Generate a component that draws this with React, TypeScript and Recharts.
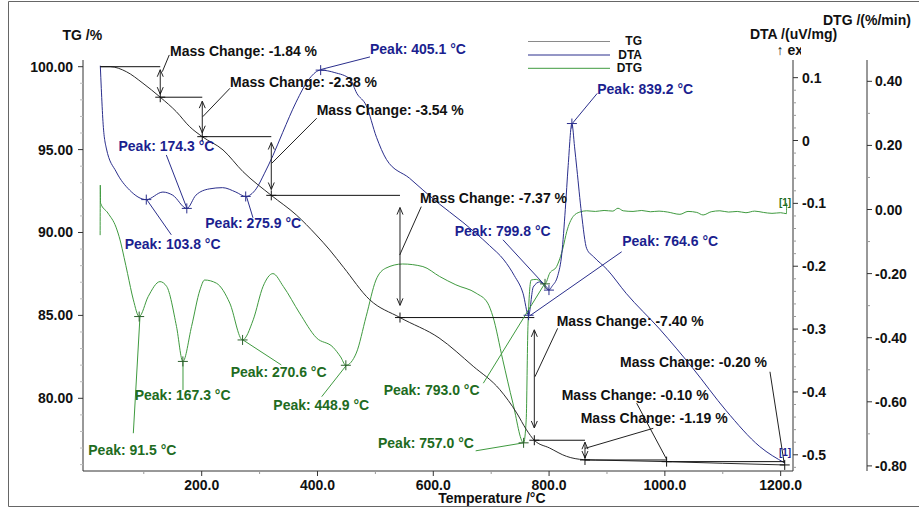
import React from 'react';
import { ComposedChart, Line, XAxis, YAxis, ReferenceLine, ReferenceDot } from 'recharts';

const FONT = '"Liberation Sans", Arial, sans-serif';
const AXIS = '#333333';
const TG_COLOR = '#2b2b2b';
const DTA_COLOR = '#2a2e8c';
const DTA_TEXT = '#1b1f8f';
const DTG_COLOR = '#3f9a3f';
const DTG_TEXT = '#216b21';

// TG /% vs temperature /°C
const tgTemp = [24.9, 42, 69.8, 98.6, 128.4, 156.1, 179.3, 201, 236.8, 271.3, 320.2, 363.4, 397.9, 421, 445, 490, 542.5, 610, 669, 715, 744, 761, 774.5, 801, 830, 860, 900, 1003, 1100, 1207];
const tgValues = [100.0, 100.0, 99.7, 99.0, 98.16, 97.29, 96.38, 95.78, 94.98, 93.67, 92.24, 91.06, 89.85, 88.95, 87.9, 85.95, 84.87, 83.64, 81.93, 80.52, 79.12, 78.1, 77.47, 77.0, 76.5, 76.3, 76.26, 76.18, 76.08, 75.98];

// DTA /(uV/mg)
const dtaTemp = [24.9, 26.6, 29.5, 35.2, 52.5, 75.6, 104.3, 133, 150, 174.3, 190, 213, 236, 259, 276, 294, 308, 323, 340, 363, 386.5, 405.5, 430, 456, 468, 484, 502, 519, 559, 605, 651, 697, 722, 740, 755, 764.6, 772.7, 784, 799.8, 805, 815, 822, 828, 833, 839.4, 844, 848, 856, 865, 877, 900, 933, 991, 1048, 1106, 1164, 1207];
const dtaValues = [0.119, 0.083, 0.03, -0.012, -0.05, -0.079, -0.094, -0.082, -0.087, -0.108, -0.087, -0.077, -0.075, -0.082, -0.089, -0.077, -0.053, -0.024, 0.013, 0.061, 0.099, 0.112, 0.108, 0.098, 0.075, 0.056, 0.005, -0.03, -0.06, -0.097, -0.13, -0.167, -0.19, -0.215, -0.243, -0.278, -0.233, -0.225, -0.238, -0.232, -0.215, -0.18, -0.11, -0.04, 0.027, -0.01, -0.045, -0.116, -0.172, -0.185, -0.205, -0.243, -0.3, -0.362, -0.43, -0.487, -0.513];

// DTG /(%/min)
const dtgTemp = [24.6, 24.9, 25.3, 38, 52, 59, 66, 72, 82, 92, 107.5, 128, 139.5, 156.5, 167.5, 182.5, 197, 205, 225.5, 248.5, 270.6, 289, 306, 323, 341, 369, 398, 427, 440, 449, 467, 484, 501, 518, 547, 582, 611, 639, 674, 694, 703, 720, 737.5, 756, 760.5, 763.5, 769, 778, 793, 801, 813, 824, 830.5, 841.5, 853, 865, 880, 895, 910, 919, 928, 945, 960, 975, 990, 1005, 1026, 1040, 1055, 1066, 1080, 1095, 1110, 1125, 1140, 1155, 1170, 1185, 1200, 1210, 1210.3];
const dtgValues = [-0.08, 0.076, 0.02, -0.011, -0.055, -0.095, -0.15, -0.2, -0.282, -0.334, -0.272, -0.225, -0.24, -0.365, -0.474, -0.365, -0.251, -0.22, -0.23, -0.292, -0.407, -0.344, -0.24, -0.2, -0.24, -0.323, -0.4, -0.43, -0.46, -0.486, -0.448, -0.334, -0.22, -0.183, -0.17, -0.178, -0.209, -0.235, -0.261, -0.292, -0.334, -0.469, -0.604, -0.728, -0.656, -0.365, -0.22, -0.218, -0.232, -0.199, -0.178, -0.12, -0.069, -0.022, -0.008, -0.004, -0.006, -0.003, -0.005, 0.004, -0.004, -0.006, -0.003, -0.007, -0.005, -0.008, -0.015, -0.006, -0.009, -0.017, -0.007, -0.004, -0.008, -0.006, -0.01, -0.005, -0.009, -0.012, -0.01, -0.013, 0.02];

// mass-change steps on TG
const stepTemps = [24.9, 128.4, 201, 320.2, 542.5, 774.5, 862, 1003, 1207];
const stepLevels = [100.0, 98.16, 95.78, 92.24, 84.87, 77.47, 76.28, 76.18, 75.98];

// peak markers
const dtaPeakTemps = [104.3, 174.3, 276, 405.5, 764.6, 799.8, 839.4];
const dtaPeakValues = [-0.094, -0.108, -0.089, 0.112, -0.278, -0.238, 0.027];
const dtgPeakTemps = [92, 167.5, 270.6, 449, 756, 793];
const dtgPeakValues = [-0.334, -0.474, -0.407, -0.486, -0.728, -0.232];

// annotation labels (data units: temperature, axis value)
const massLabels = [
  { text: 'Mass Change: -1.84 %', t: 145.3, v: 100.95, from: [144, 100.71], to: [132, 99.7] },
  { text: 'Mass Change: -2.38 %', t: 248.9, v: 99.1, from: [248.9, 98.7], to: [201.7, 96.98] },
  { text: 'Mass Change: -3.54 %', t: 398.6, v: 97.38, from: [398.6, 96.89], to: [320.9, 94.17] },
  { text: 'Mass Change: -7.37 %', t: 577, v: 92.11, from: [579.3, 91.56], to: [542, 88.64] },
  { text: 'Mass Change: -7.40 %', t: 813.1, v: 84.69, from: [814.8, 84.22], to: [775.6, 81.3] },
  { text: 'Mass Change: -0.20 %', t: 922.5, v: 82.19, from: [1181.5, 81.6], to: [1206, 76.1] },
  { text: 'Mass Change: -0.10 %', t: 821.8, v: 80.18, from: [951.3, 79.7], to: [1003, 76.32] },
  { text: 'Mass Change: -1.19 %', t: 854.6, v: 78.81, from: [980, 78.19], to: [862, 76.98] },
];
const dtaLabels = [
  { text: 'Peak: 405.1 °C', t: 490.7, v: 0.146, from: [490.7, 0.133], to: [406, 0.113] },
  { text: 'Peak: 174.3 °C', t: 56.3, v: -0.0092, from: [138.9, -0.023], to: [174.6, -0.108] },
  { text: 'Peak: 103.8 °C', t: 67, v: -0.1654, from: [147.5, -0.15], to: [104.3, -0.093] },
  { text: 'Peak: 275.9 °C', t: 206.2, v: -0.131, from: [288.6, -0.123], to: [277, -0.088] },
  { text: 'Peak: 839.2 °C', t: 883.2, v: 0.082, from: [883.2, 0.075], to: [840, 0.027] },
  { text: 'Peak: 799.8 °C', t: 637, v: -0.144, from: [720.4, -0.158], to: [799.5, -0.237] },
  { text: 'Peak: 764.6 °C', t: 926.4, v: -0.16, from: [925.4, -0.177], to: [766.5, -0.279] },
];
const dtgLabels = [
  { text: 'Peak: 91.5 °C', t: 4.1, v: -0.749, from: [81.9, -0.698], to: [93.4, -0.334] },
  { text: 'Peak: 167.3 °C', t: 84.3, v: -0.579, from: [167.7, -0.563], to: [167.7, -0.475] },
  { text: 'Peak: 270.6 °C', t: 250.1, v: -0.508, from: [337.5, -0.485], to: [271.3, -0.407] },
  { text: 'Peak: 448.9 °C', t: 323.7, v: -0.609, from: [407.3, -0.584], to: [450.4, -0.485] },
  { text: 'Peak: 793.0 °C', t: 514.3, v: -0.563, from: [686.4, -0.542], to: [792.9, -0.23] },
  { text: 'Peak: 757.0 °C', t: 504.5, v: -0.727, from: [673.2, -0.753], to: [756, -0.728] },
];

// ticks
const xTicks = [100, 200, 300, 400, 500, 600, 700, 800, 900, 1000, 1100, 1200];
const tgTicks = Array.from({ length: 25 }, (_, i) => 76 + i);
const dtaTicks = Array.from({ length: 32 }, (_, i) => Math.round((-0.52 + i * 0.02) * 100) / 100);
const dtgTicks = [-0.8, -0.7, -0.6, -0.5, -0.4, -0.3, -0.2, -0.1, 0, 0.1, 0.2, 0.3, 0.4];

const toRows = (ts: number[], vs: number[]) => ts.map((t, i) => ({ t, v: vs[i] }));
const tgData = toRows(tgTemp, tgValues);
const dtaData = toRows(dtaTemp, dtaValues);
const dtgData = toRows(dtgTemp, dtgValues);

const isMult = (v: number, step: number) => Math.abs(v / step - Math.round(v / step)) < 1e-6;

const txt = { fontFamily: FONT, fontWeight: 700, fontSize: 14 } as const;

const XTick = (props: any) => {
  const { x, y, payload } = props;
  const major = isMult(payload.value, 200);
  return (
    <g>
      <line x1={x} y1={y} x2={x} y2={y + (major ? 5 : 3)} stroke={major ? AXIS : '#999'} />
      {major && (
        <text x={x} y={y + 14} textAnchor="middle" dominantBaseline="central" fill="#111" {...txt}>
          {payload.value.toFixed(1)}
        </text>
      )}
    </g>
  );
};

const TgTick = (props: any) => {
  const { x, y, payload } = props;
  const major = isMult(payload.value, 5);
  return (
    <g>
      <line x1={x - (major ? 5 : 3)} y1={y} x2={x} y2={y} stroke={major ? AXIS : '#bbb'} />
      {major && (
        <text x={x - 10} y={y} textAnchor="end" dominantBaseline="central" fill="#111" {...txt}>
          {payload.value.toFixed(2)}
        </text>
      )}
    </g>
  );
};

const DtaTick = (props: any) => {
  const { x, y, payload } = props;
  const major = isMult(payload.value, 0.1);
  const v = Math.round(payload.value * 10) / 10;
  return (
    <g>
      <line x1={x} y1={y} x2={x + (major ? 5 : 3)} y2={y} stroke={major ? AXIS : '#999'} />
      {major && (
        <text x={x + 9} y={y} textAnchor="start" dominantBaseline="central" fill="#111" {...txt}>
          {v === 0 ? '0' : v.toFixed(1)}
        </text>
      )}
    </g>
  );
};

const DtgTick = (props: any) => {
  const { x, y, payload } = props;
  const major = isMult(payload.value, 0.2);
  return (
    <g>
      <line x1={x} y1={y} x2={x + (major ? 5 : 3)} y2={y} stroke={major ? AXIS : '#999'} />
      {major && (
        <text x={x + 8} y={y} textAnchor="start" dominantBaseline="central" fill="#111" {...txt}>
          {payload.value.toFixed(2)}
        </text>
      )}
    </g>
  );
};

const textShape = (label: string, color: string, size = 14) => (p: any) => (
  <text x={p.cx} y={p.cy} dominantBaseline="central" fill={color} {...txt} fontSize={size}>
    {label}
  </text>
);

const plusShape = (color: string) => (p: any) => (
  <path d={`M${p.cx - 5},${p.cy}H${p.cx + 5}M${p.cx},${p.cy - 5}V${p.cy + 5}`} stroke={color} strokeWidth={1} fill="none" />
);

const arrowShape = (p: any) => {
  const x = p.x1;
  const top = Math.min(p.y1, p.y2);
  const bot = Math.max(p.y1, p.y2);
  return (
    <path
      d={`M${x},${top}V${bot}M${x - 3},${top + 7}L${x},${top}L${x + 3},${top + 7}M${x - 3},${bot - 7}L${x},${bot}L${x + 3},${bot - 7}`}
      stroke="#222"
      strokeWidth={1}
      fill="none"
    />
  );
};

export default function App() {
  const arrows = stepTemps.slice(1, 7).map((t, i) => {
    const a = stepLevels[i];
    const b = stepLevels[i + 1];
    const inset = (a - b) * 0.1;
    return { t, top: a - inset, bottom: b + inset };
  });

  return (
    <div style={{ position: 'absolute', left: 0, top: 0, width: 919, height: 510, background: '#fff' }}>
      <ComposedChart width={919} height={510} margin={{ top: 60, right: 7, bottom: 9, left: 0 }}>
        <XAxis
          dataKey="t"
          type="number"
          domain={[-5, 1221.3]}
          allowDataOverflow
          ticks={xTicks}
          interval={0}
          tickSize={0}
          tickMargin={0}
          tickLine={false}
          tick={XTick}
          height={30}
          axisLine={{ stroke: AXIS }}
        />
        <YAxis
          yAxisId="tg"
          orientation="left"
          width={83}
          type="number"
          domain={[75.615, 100.404]}
          allowDataOverflow
          ticks={tgTicks}
          interval={0}
          tickSize={0}
          tickMargin={0}
          tickLine={false}
          tick={TgTick}
          axisLine={{ stroke: AXIS }}
        />
        <YAxis
          yAxisId="dta"
          orientation="right"
          width={74}
          type="number"
          domain={[-0.5258, 0.1281]}
          allowDataOverflow
          ticks={dtaTicks}
          interval={0}
          tickSize={0}
          tickMargin={0}
          tickLine={false}
          tick={DtaTick}
          axisLine={{ stroke: AXIS }}
        />
        <YAxis
          yAxisId="dtg"
          orientation="right"
          width={45}
          type="number"
          domain={[-0.8159, 0.4665]}
          allowDataOverflow
          ticks={dtgTicks}
          interval={0}
          tickSize={0}
          tickMargin={0}
          tickLine={false}
          tick={DtgTick}
          axisLine={{ stroke: AXIS }}
        />

        <Line yAxisId="dtg" data={dtgData} dataKey="v" type="monotone" stroke={DTG_COLOR} strokeWidth={1} dot={false} isAnimationActive={false} />
        <Line yAxisId="dta" data={dtaData} dataKey="v" type="monotone" stroke={DTA_COLOR} strokeWidth={1} dot={false} isAnimationActive={false} />
        <Line yAxisId="tg" data={tgData} dataKey="v" type="monotone" stroke={TG_COLOR} strokeWidth={1} dot={false} isAnimationActive={false} />

        {stepTemps.slice(0, -1).map((t, i) => (
          <ReferenceLine
            key={`step${i}`}
            yAxisId="tg"
            ifOverflow="visible"
            segment={[{ x: t, y: stepLevels[i] }, { x: stepTemps[i + 1], y: stepLevels[i] }]}
            stroke="#111"
            strokeWidth={1}
          />
        ))}
        {arrows.map((a, i) => (
          <ReferenceLine
            key={`arr${i}`}
            yAxisId="tg"
            ifOverflow="visible"
            segment={[{ x: a.t, y: a.top }, { x: a.t, y: a.bottom }]}
            shape={arrowShape}
          />
        ))}
        {stepTemps.slice(1).map((t, i) => (
          <ReferenceDot key={`tgm${i}`} yAxisId="tg" x={t} y={stepLevels[i + 1]} ifOverflow="visible" shape={plusShape('#111')} />
        ))}
        {dtaPeakTemps.map((t, i) => (
          <ReferenceDot key={`dtam${i}`} yAxisId="dta" x={t} y={dtaPeakValues[i]} ifOverflow="visible" shape={plusShape(DTA_COLOR)} />
        ))}
        {dtgPeakTemps.map((t, i) => (
          <ReferenceDot key={`dtgm${i}`} yAxisId="dtg" x={t} y={dtgPeakValues[i]} ifOverflow="visible" shape={plusShape('#2d5f2d')} />
        ))}

        {massLabels.map((l, i) => (
          <ReferenceLine
            key={`ml${i}`}
            yAxisId="tg"
            ifOverflow="visible"
            segment={[{ x: l.from[0], y: l.from[1] }, { x: l.to[0], y: l.to[1] }]}
            stroke="#222"
            strokeWidth={1}
          />
        ))}
        {dtaLabels.map((l, i) => (
          <ReferenceLine
            key={`dl${i}`}
            yAxisId="dta"
            ifOverflow="visible"
            segment={[{ x: l.from[0], y: l.from[1] }, { x: l.to[0], y: l.to[1] }]}
            stroke={DTA_COLOR}
            strokeWidth={1}
          />
        ))}
        {dtgLabels.map((l, i) => (
          <ReferenceLine
            key={`gl${i}`}
            yAxisId="dtg"
            ifOverflow="visible"
            segment={[{ x: l.from[0], y: l.from[1] }, { x: l.to[0], y: l.to[1] }]}
            stroke={DTG_COLOR}
            strokeWidth={1}
          />
        ))}

        {massLabels.map((l, i) => (
          <ReferenceDot key={`mt${i}`} yAxisId="tg" x={l.t} y={l.v} ifOverflow="visible" shape={textShape(l.text, '#111')} />
        ))}
        {dtaLabels.map((l, i) => (
          <ReferenceDot key={`dt${i}`} yAxisId="dta" x={l.t} y={l.v} ifOverflow="visible" shape={textShape(l.text, DTA_TEXT)} />
        ))}
        {dtgLabels.map((l, i) => (
          <ReferenceDot key={`gt${i}`} yAxisId="dtg" x={l.t} y={l.v} ifOverflow="visible" shape={textShape(l.text, DTG_TEXT)} />
        ))}
        <ReferenceDot yAxisId="dta" x={1197} y={-0.497} ifOverflow="visible" shape={textShape('[1]', DTA_TEXT, 10)} />
        <ReferenceDot yAxisId="dtg" x={1197} y={0.022} ifOverflow="visible" shape={textShape('[1]', DTG_TEXT, 10)} />
      </ComposedChart>

      <svg width={919} height={510} style={{ position: 'absolute', left: 0, top: 0, pointerEvents: 'none' }}>
        <defs>
          <clipPath id="exoClip">
            <rect x={0} y={0} width={801} height={510} />
          </clipPath>
        </defs>
        <path d="M919,1.5H8.5V506.5H919" stroke="#666" fill="none" />
        <g {...txt} fill="#111">
          <text x={62.5} y={35} dominantBaseline="central">TG /%</text>
          <text x={750} y={34} dominantBaseline="central">DTA /(uV/mg)</text>
          <text x={823} y={20} dominantBaseline="central">DTG /(%/min)</text>
          <text x={776.5} y={50} dominantBaseline="central" clipPath="url(#exoClip)">↑ exo</text>
          <text x={438.3} y={498} dominantBaseline="central">Temperature /°C</text>
        </g>
        <g fontFamily={FONT} fontWeight={700} fontSize={12} fill="#111">
          <line x1={528} y1={41.5} x2={610} y2={41.5} stroke="#8a8a8a" />
          <text x={642} y={41} textAnchor="end" dominantBaseline="central">TG</text>
          <line x1={528} y1={55} x2={610} y2={55} stroke={DTA_COLOR} />
          <text x={642} y={54.7} textAnchor="end" dominantBaseline="central">DTA</text>
          <line x1={528} y1={68.3} x2={610} y2={68.3} stroke={DTG_COLOR} />
          <text x={642} y={68.3} textAnchor="end" dominantBaseline="central">DTG</text>
        </g>
      </svg>
    </div>
  );
}
